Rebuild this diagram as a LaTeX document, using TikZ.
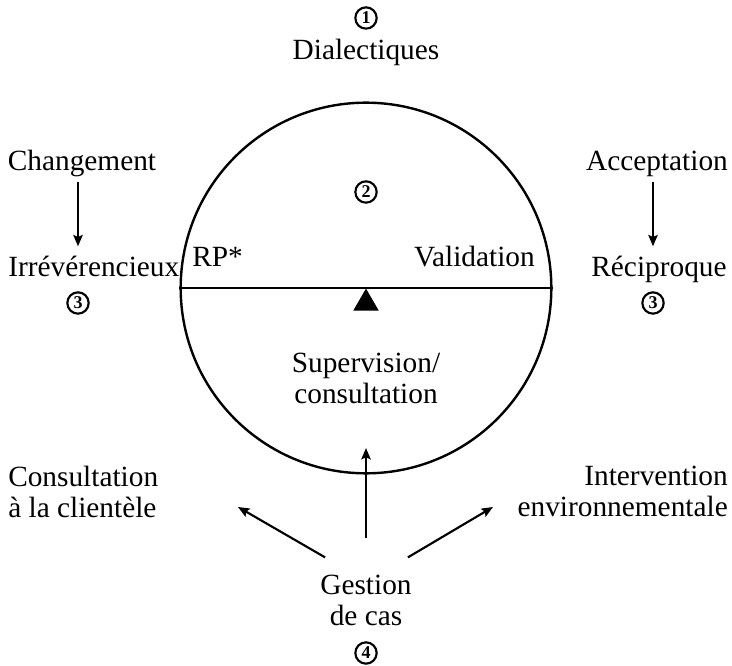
\documentclass[tikz,border=0pt]{standalone}
\usepackage{fontspec}
\setmainfont{Liberation Serif}
\usepackage{tikz}
\usetikzlibrary{calc}
\usetikzlibrary{arrows.meta,shapes.geometric}
\tikzset{>={Stealth[length=8.5pt,width=7pt,inset=1.5pt]}}
\tikzset{txt/.style={inner sep=0pt,font=\fontsize{22}{23.25}\selectfont},
         num/.style={circle,draw,line width=1.6pt,inner sep=0pt,minimum size=16pt,
                     font=\bfseries\fontsize{13.5}{13.5}\selectfont},
         arr/.style={->,line width=1.6pt}}

\begin{document}
\begin{tikzpicture}[x=0.75pt,y=-0.75pt]
\useasboundingbox (0,0) rectangle (732,666);
% top
\node (n1) [num] at (366,18) {1};
\node (dialect) [txt,anchor=base] at (366,60) {Dialectiques};
% left side
\node (chang) [txt,anchor=base] at (82,171) {Changement};
\node (irrev) [txt,anchor=base west] at (8,277) {Irrévérencieux};
\node (n3l) [num] at (78,303) {3};
\draw[arr,shorten <=3.4pt,shorten >=7.5pt] (chang.south -| n3l) -- (irrev.north -| n3l);
% right side
\node (accept) [txt,anchor=base] at (657,171) {Acceptation};
\node (recip) [txt,anchor=base] at (659,277) {Réciproque};
\node (n3r) [num] at (653,303) {3};
\draw[arr,shorten <=3.4pt,shorten >=7.5pt] (accept.south -| n3r) -- (recip.north -| n3r);
% the balance
\node (disc) [circle,draw,line width=1.8pt,inner sep=0pt,minimum size=278pt] at (366,288) {};
\draw[line width=1.8pt] (disc.west) -- (disc.east);
\node (pivot) [fill,regular polygon,regular polygon sides=3,inner sep=0pt,minimum size=22pt,anchor=corner 1] at (disc.center) {};
\node (n2) [num] at (366,192) {2};
\node (rp) [txt,anchor=base west] at (192,267) {RP*};
\node (valid) [txt,anchor=base east] at (535,267) {Validation};
\node (superv) [txt,align=center] at (366,378) {Supervision/\\consultation};
% bottom
\node (client) [txt,align=left,anchor=west] at (8,492) {Consultation\\à la clientèle};
\node (environ) [txt,align=right,anchor=east] at (728,491) {Intervention\\environnementale};
\node (gestion) [txt,align=center] at (366,600) {Gestion\\de cas};
\node (n4) [num] at (366,653) {4};
\coordinate (clientTip) at (238,507);
\coordinate (environTip) at (493,507);
\coordinate (supervTip) at (366,448);
\draw[arr] ($(gestion.north west)+(5,-17)$) -- (clientTip);
\draw[arr] ($(gestion.north)+(0,-36)$) -- (supervTip);
\draw[arr] ($(gestion.north east)+(-4,-17)$) -- (environTip);
\end{tikzpicture}
\end{document}
